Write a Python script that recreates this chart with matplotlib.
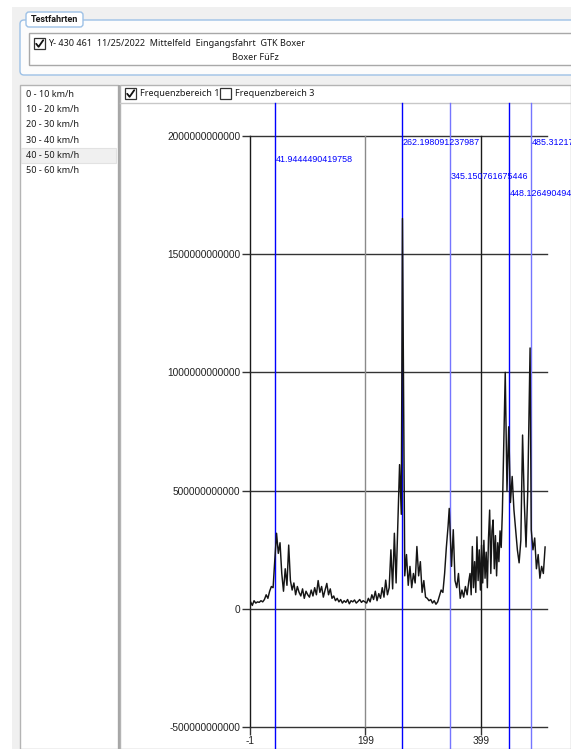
import matplotlib
matplotlib.use("Agg")
import matplotlib.pyplot as plt
from matplotlib.patches import Rectangle, FancyBboxPatch
import matplotlib.transforms as mtransforms

# ------------------------------ data ------------------------------
speed_ranges = ["0 - 10 km/h", "10 - 20 km/h", "20 - 30 km/h",
                "30 - 40 km/h", "40 - 50 km/h", "50 - 60 km/h"]
selected_range = "40 - 50 km/h"
trip_line1 = "Y- 430 461  11/25/2022  Mittelfeld  Eingangsfahrt  GTK Boxer"
trip_line2 = "Boxer FüFz"
freq_boxes = ["Frequenzbereich 1", "Frequenzbereich 3"]
freq_checked = [True, False]

x_ticks = [-1, 199, 399]
y_ticks = [-500e9, 0, 500e9, 1000e9, 1500e9, 2000e9]
y_tick_labels = ["-500000000000", "0", "500000000000", "1000000000000",
                 "1500000000000", "2000000000000"]

markers = [41.9444490419758, 262.198091237987, 345.150761675446,
           448.126490494153, 485.312174395217]
marker_labels = ["41.9444490419758", "262.198091237987", "345.150761675446",
                 "448.126490494153", "485.312174395217"]

freq = [0, 3, 6, 9, 12, 15, 18, 21, 24, 27, 30, 33, 36, 39, 42, 45, 48, 51,
        54, 57, 60, 63, 66, 69, 72, 75, 78, 81, 84, 87, 90, 93, 96, 99, 102,
        105, 108, 111, 114, 117, 120, 123, 126, 129, 132, 135, 138, 141, 144,
        147, 150, 153, 156, 159, 162, 165, 168, 171, 174, 177, 180, 183, 186,
        189, 192, 195, 198, 201, 204, 207, 210, 213, 216, 219, 222, 225, 228,
        231, 234, 237, 240, 243, 246, 249, 252, 255, 258, 261, 263, 267, 270,
        273, 276, 279, 282, 285, 288, 291, 294, 297, 300, 303, 306, 309, 312,
        315, 318, 321, 324, 327, 330, 333, 336, 339, 342, 344, 348, 351, 354,
        357, 360, 363, 366, 369, 372, 375, 378, 380, 382, 384, 386, 388, 390,
        392, 394, 396, 398, 400, 402, 404, 406, 408, 410, 412, 414, 416, 418,
        420, 422, 424, 426, 428, 430, 432, 434, 436, 438, 441, 444, 447, 450,
        453, 456, 459, 462, 465, 468, 471, 474, 477, 480, 484, 486, 489, 492,
        495, 498, 501, 504, 507, 510]
# amplitude in units of 1e9
amp = [30, 15, 35, 25, 30, 28, 35, 30, 40, 60, 45, 75, 95, 90, 210, 320, 235,
       280, 150, 75, 170, 100, 270, 120, 80, 110, 60, 95, 70, 55, 85, 45, 75,
       60, 50, 80, 55, 90, 60, 120, 70, 95, 50, 80, 108, 60, 85, 45, 55, 35,
       45, 30, 40, 25, 35, 28, 40, 22, 35, 30, 38, 25, 32, 40, 28, 35, 30, 25,
       45, 30, 60, 40, 75, 35, 65, 45, 90, 50, 122, 60, 90, 250, 85, 320, 110,
       355, 610, 400, 1650, 140, 230, 100, 180, 90, 150, 110, 264, 140, 200,
       70, 120, 50, 45, 35, 40, 25, 35, 20, 30, 55, 80, 70, 150, 260, 350,
       425, 180, 335, 120, 90, 150, 45, 80, 50, 95, 60, 120, 150, 60, 264,
       90, 200, 70, 305, 120, 250, 80, 270, 110, 290, 130, 240, 90, 300, 418,
       150, 330, 376, 170, 310, 140, 280, 200, 330, 260, 410, 650, 1000, 500,
       770, 450, 560, 420, 335, 250, 195, 290, 735, 450, 262, 500, 1103, 335,
       250, 300, 170, 230, 130, 180, 150, 262]
values = [a * 1e9 for a in amp]

# ------------------------------ figure ------------------------------
W, H = 571, 749
fig = plt.figure(figsize=(W / 100, H / 100), dpi=100)
fig.patch.set_facecolor("white")

ui_font = "Noto Sans"
ui_size = 6.5

# overlay in pixel coordinates for the window chrome
ov = fig.add_axes([0, 0, 1, 1])
ov.set_xlim(0, W)
ov.set_ylim(H, 0)
ov.axis("off")

ov.add_patch(Rectangle((12, 7), W - 12, H - 7, facecolor="#f0f0f0", edgecolor="none"))

# group box "Testfahrten"
ov.add_patch(FancyBboxPatch((20, 20), 600, 55, boxstyle="round,pad=0,rounding_size=4",
                            facecolor="#fcfcfc", edgecolor="#9dc1e6", lw=1))
ov.add_patch(FancyBboxPatch((26, 12), 57, 15, boxstyle="round,pad=0,rounding_size=3",
                            facecolor="white", edgecolor="#9dc1e6", lw=1))
ov.text(54.5, 19.5, "Testfahrten", fontsize=6.5, fontweight="bold", family="Roboto",
        ha="center", va="center", color="#1a1a1a")
ov.add_patch(Rectangle((29, 33), 600, 32, facecolor="white", edgecolor="#a8a8a8", lw=1))


def checkbox(x, y, checked):
    ov.add_patch(Rectangle((x, y), 11, 11, facecolor="white", edgecolor="#333333", lw=0.9))
    if checked:
        ov.plot([x + 2.2, x + 4.6, x + 9.2], [y + 5.8, y + 8.8, y + 2.2],
                color="#111111", lw=1.3, solid_capstyle="round")


checkbox(34, 38, True)
ov.text(48, 43.5, trip_line1, fontsize=ui_size, family=ui_font, va="center", color="#1a1a1a")
ov.text(232, 57, trip_line2, fontsize=ui_size, family=ui_font, va="center", color="#1a1a1a")

# left list of speed ranges
ov.add_patch(Rectangle((20, 85), 97.5, H - 85, facecolor="white", edgecolor="#b4b4b4", lw=1))
ov.add_patch(Rectangle((117.5, 85), 2.5, H - 85, facecolor="#a6a6a6", edgecolor="none"))
for i, lab in enumerate(speed_ranges):
    yc = 94.3 + i * 15.3
    if lab == selected_range:
        ov.add_patch(Rectangle((21, yc - 7.5), 95, 15, facecolor="#f0f0f0",
                               edgecolor="#e2e2e2", lw=0.8))
    ov.text(25.5, yc, lab, fontsize=ui_size, family=ui_font, va="center", color="#1a1a1a")

# chart panel with checkbox strip
ov.add_patch(Rectangle((120, 85), W - 120, H - 85, facecolor="white", edgecolor="#b4b4b4", lw=1))
ov.plot([120, W], [103, 103], color="#c8c8c8", lw=1)
box_x = [125, 220]
for bx, lab, chk in zip(box_x, freq_boxes, freq_checked):
    checkbox(bx, 88, chk)
    ov.text(bx + 15, 93.5, lab, fontsize=ui_size, family=ui_font, va="center", color="#1a1a1a")

# ------------------------------ chart ------------------------------
ax_l, ax_r, ax_t, ax_b = 250, 547, 135.7, 727.3
ax = fig.add_axes([ax_l / W, (H - ax_b) / H, (ax_r - ax_l) / W, (ax_b - ax_t) / H])
ax.patch.set_alpha(0)
ax.set_xlim(-1, 513.3)
ax.set_ylim(-500e9, 2000e9)
for s in ax.spines.values():
    s.set_visible(False)

tick_font = "Liberation Sans"
ax.set_xticks(x_ticks)
ax.set_xticklabels([str(t) for t in x_ticks], family=tick_font, fontsize=7.3, color="#222222")
ax.set_yticks(y_ticks)
ax.set_yticklabels(y_tick_labels, family=tick_font, fontsize=7.3, color="#222222")
ax.tick_params(axis="y", length=5.5, width=1, color="#333333", pad=1.3)
ax.tick_params(axis="x", length=5.5, width=1, color="#333333", pad=0.8)

for yv in y_ticks:
    ax.axhline(yv, color="#333333", lw=1, zorder=1, clip_on=False)
grid_cols = ["#1a1a1a", "#8a8a8a", "#1a1a1a"]
for xv, c in zip(x_ticks, grid_cols):
    ax.axvline(xv, color=c, lw=1, zorder=1, clip_on=False)

# blue frequency markers, reaching from the checkbox strip to the bottom
frac_top = (ax_b - 103) / (ax_b - ax_t)
frac_bot = (ax_b - H) / (ax_b - ax_t)
marker_cols = ["#0000ff", "#0000ff", "#7575ff", "#0000ff", "#7575ff"]
label_y_px = [160, 142.3, 176.7, 193.3, 142.3]
trans = mtransforms.blended_transform_factory(ax.transData, ax.transAxes)
for m, lab, c, ly in zip(markers, marker_labels, marker_cols, label_y_px):
    ax.axvline(m, ymin=frac_bot, ymax=frac_top, color=c, lw=1, clip_on=False, zorder=2)
    ax.text(m + 1.5, (ax_b - ly) / (ax_b - ax_t), lab, transform=trans, color="#0000ff",
            fontsize=6.4, family=tick_font, va="center", ha="left", clip_on=False)

ax.plot(freq, values, color="#151515", lw=1.05, zorder=3)

fig.savefig("out.png", dpi=100)
